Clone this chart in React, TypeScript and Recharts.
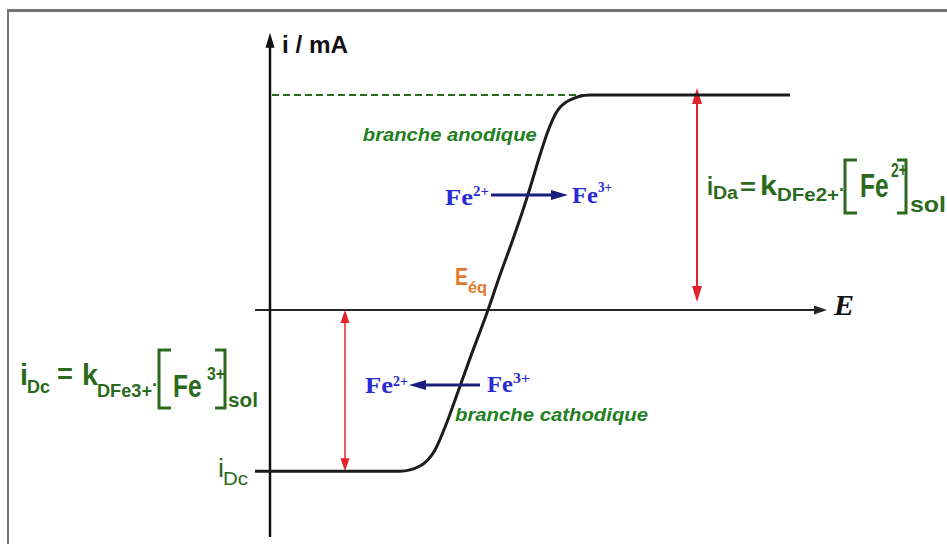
import React from 'react';
import { ComposedChart, Line, XAxis, YAxis, ReferenceLine, ReferenceDot } from 'recharts';

// i–E curve of the Fe3+/Fe2+ couple: potential E (V) and current i (mA)
const potentials = [0.1875, 0.55, 0.6, 0.6375, 0.6675, 0.695, 0.725, 0.77, 0.8, 0.83, 0.855, 0.875, 0.9, 0.92, 0.94, 0.97, 1.025, 1.525];
const currents = [-1.5, -1.5, -1.451, -1.302, -1.042, -0.76, -0.45, 0, 0.326, 0.633, 0.902, 1.135, 1.442, 1.665, 1.833, 1.944, 2.0, 2.0];

// characteristic values
const E_EQ = 0.77;
const I_DA = 2.0;
const I_DC = -1.5;

// axis placement and extents
const E_AXIS = 0.225;
const X_START = 0.1875;
const X_END = 1.6175;
const Y_BOTTOM = -2.112;
const Y_TOP = 2.58;
const X_DOMAIN = [-0.45, 1.9175];
const Y_DOMAIN = [-2.1767, 2.8837];

const curve = potentials.map((E, k) => ({ E, i: currents[k] }));

const SANS = "'Liberation Sans', Arial, sans-serif";
const SERIF = "'Liberation Serif', 'Times New Roman', serif";

const GREEN = '#2a6a1d';
const GREEN_TXT = '#23801f';
const BLUE = '#2a2ad4';
const NAVY = '#1b1f7c';
const RED = '#e3232b';
const ORANGE = '#e07a2e';
const INK = '#1c1c1c';

type Piece = {
  t: string;
  dx: number;
  dy: number;
  size: number;
  len?: number;
  sy?: number; // vertical stretch for tall, narrow glyphs
  fill: string;
  family?: string;
  weight?: string | number;
  italic?: boolean;
};

type Bracket = { x: number; arm: number; top: number; bottom: number };

const textShape = (pieces: Piece[], brackets: Bracket[] = [], color = GREEN) => (p: any) => (
  <g>
    {brackets.map((b, k) => (
      <path
        key={'b' + k}
        d={`M${p.cx + b.x + b.arm},${p.cy + b.top} L${p.cx + b.x},${p.cy + b.top} L${p.cx + b.x},${p.cy + b.bottom} L${p.cx + b.x + b.arm},${p.cy + b.bottom}`}
        fill="none"
        stroke={color}
        strokeWidth={3}
      />
    ))}
    {pieces.map((q, k) => {
      const common = {
        fontSize: q.size,
        fill: q.fill,
        fontFamily: q.family ?? SANS,
        fontWeight: q.weight ?? 'bold',
        fontStyle: q.italic ? 'italic' : 'normal',
      };
      if (q.sy) {
        return (
          <text key={k} x={0} y={0} transform={`translate(${p.cx + q.dx},${p.cy + q.dy}) scale(1,${q.sy})`} {...common}>
            {q.t}
          </text>
        );
      }
      return (
        <text
          key={k}
          x={p.cx + q.dx}
          y={p.cy + q.dy}
          {...common}
          textLength={q.len}
          lengthAdjust={q.len ? 'spacingAndGlyphs' : undefined}
        >
          {q.t}
        </text>
      );
    })}
  </g>
);

type ArrowOpts = {
  color: string;
  width: number;
  head: number;
  half: number;
  atStart?: boolean;
  atEnd?: boolean;
  startShift?: number;
  endShift?: number;
};

const head = (tx: number, ty: number, ux: number, uy: number, o: ArrowOpts) => {
  const nx = -uy;
  const ny = ux;
  const bx = tx - ux * o.head;
  const by = ty - uy * o.head;
  return `${tx},${ty} ${bx + nx * o.half},${by + ny * o.half} ${bx - nx * o.half},${by - ny * o.half}`;
};

const arrowShape = (o: ArrowOpts) => (p: any) => {
  const { x1, y1, x2, y2 } = p;
  const L = Math.hypot(x2 - x1, y2 - y1) || 1;
  const ux = (x2 - x1) / L;
  const uy = (y2 - y1) / L;
  const sx = x1 - ux * (o.startShift ?? 0);
  const sy = y1 - uy * (o.startShift ?? 0);
  const ex = x2 + ux * (o.endShift ?? 0);
  const ey = y2 + uy * (o.endShift ?? 0);
  const lx1 = o.atStart ? sx + ux * o.head * 0.6 : sx;
  const ly1 = o.atStart ? sy + uy * o.head * 0.6 : sy;
  const lx2 = o.atEnd ? ex - ux * o.head * 0.6 : ex;
  const ly2 = o.atEnd ? ey - uy * o.head * 0.6 : ey;
  return (
    <g>
      <line x1={lx1} y1={ly1} x2={lx2} y2={ly2} stroke={o.color} strokeWidth={o.width} />
      {o.atEnd && <polygon points={head(ex, ey, ux, uy, o)} fill={o.color} />}
      {o.atStart && <polygon points={head(sx, sy, -ux, -uy, o)} fill={o.color} />}
    </g>
  );
};

// horizontal reaction arrow with labels, anchored at the arrow's left end
const reactionShape = (pieces: Piece[], length: number, pointLeft: boolean) => (p: any) => {
  const x0 = p.cx;
  const y0 = p.cy;
  const o: ArrowOpts = { color: NAVY, width: 3, head: 17, half: 5 };
  const tip = pointLeft ? x0 : x0 + length;
  const tail = pointLeft ? x0 + length : x0;
  const u = pointLeft ? -1 : 1;
  return (
    <g>
      <line x1={tail} y1={y0} x2={tip - u * o.head * 0.6} y2={y0} stroke={NAVY} strokeWidth={3} />
      <polygon points={head(tip, y0, u, 0, o)} fill={NAVY} />
      {textShape(pieces)(p)}
    </g>
  );
};

const feStyle = { fill: BLUE, family: SERIF, weight: 'bold' as const };

export default function App() {
  return (
    <div style={{ position: 'fixed', left: 0, top: 0, width: 947, height: 544, background: '#ffffff', overflow: 'hidden' }}>
      <div
        style={{
          position: 'absolute',
          left: 7,
          top: 9,
          right: -10,
          bottom: -10,
          borderTop: '3px solid #747474',
          borderLeft: '2px solid #747474',
        }}
      />
      <div style={{ position: 'absolute', left: 0, top: 0 }}>
        <ComposedChart width={947} height={544} data={curve} margin={{ top: 0, right: 0, bottom: 0, left: 0 }}>
          <XAxis dataKey="E" type="number" domain={X_DOMAIN} allowDataOverflow hide />
          <YAxis type="number" domain={Y_DOMAIN} allowDataOverflow hide />

          {/* axes */}
          <ReferenceLine
            segment={[{ x: X_START, y: 0 }, { x: X_END, y: 0 }]}
            ifOverflow="visible"
            shape={arrowShape({ color: '#262626', width: 2, head: 13, half: 4.5, atEnd: true })}
          />
          <ReferenceLine
            segment={[{ x: E_AXIS, y: Y_BOTTOM }, { x: E_AXIS, y: Y_TOP }]}
            ifOverflow="visible"
            shape={arrowShape({ color: '#111111', width: 2.5, head: 15, half: 4.5, atEnd: true })}
          />

          {/* anodic limiting current extended to the i axis */}
          <ReferenceLine
            segment={[{ x: E_AXIS + 0.005, y: I_DA }, { x: 1.025, y: I_DA }]}
            ifOverflow="visible"
            stroke={GREEN}
            strokeWidth={2}
            strokeDasharray="7 4"
          />

          {/* limiting current spans */}
          <ReferenceLine
            segment={[{ x: 1.2925, y: I_DA }, { x: 1.2925, y: 0 }]}
            ifOverflow="visible"
            shape={arrowShape({ color: RED, width: 2, head: 16, half: 5, atStart: true, atEnd: true, startShift: 7, endShift: -8 })}
          />
          <ReferenceLine
            segment={[{ x: 0.4125, y: 0 }, { x: 0.4125, y: I_DC }]}
            ifOverflow="visible"
            shape={arrowShape({ color: RED, width: 1.5, head: 13, half: 4.5, atStart: true, atEnd: true })}
          />

          {/* reaction arrows */}
          <ReferenceDot
            x={0.7775}
            y={1.0698}
            r={0}
            ifOverflow="visible"
            shape={reactionShape(
              [
                { t: 'Fe', dx: -46, dy: 10, size: 24, len: 28, ...feStyle },
                { t: '2+', dx: -18, dy: 1, size: 14, len: 16, ...feStyle },
                { t: 'Fe', dx: 81, dy: 8, size: 23, len: 26, ...feStyle },
                { t: '3+', dx: 107, dy: -3, size: 14, len: 14, ...feStyle },
              ],
              77,
              false,
            )}
          />
          <ReferenceDot
            x={0.5725}
            y={-0.6977}
            r={0}
            ifOverflow="visible"
            shape={reactionShape(
              [
                { t: 'Fe', dx: -44, dy: 8, size: 24, len: 28, ...feStyle },
                { t: '2+', dx: -16, dy: 1, size: 14, len: 15, ...feStyle },
                { t: 'Fe', dx: 78, dy: 7, size: 23, len: 26, ...feStyle },
                { t: '3+', dx: 104, dy: -2, size: 14, len: 17, ...feStyle },
              ],
              71,
              true,
            )}
          />

          <Line
            dataKey="i"
            type="monotone"
            stroke={INK}
            strokeWidth={3}
            dot={false}
            activeDot={false}
            isAnimationActive={false}
          />

          {/* axis titles */}
          <ReferenceDot
            x={E_AXIS}
            y={Y_TOP}
            r={0}
            ifOverflow="visible"
            shape={textShape([{ t: 'i / mA', dx: 12, dy: 20, size: 23, len: 66, fill: '#111111' }])}
          />
          <ReferenceDot
            x={X_END}
            y={0}
            r={0}
            ifOverflow="visible"
            shape={textShape([{ t: 'E', dx: 7, dy: 5, size: 29, len: 20, fill: '#111111', family: SERIF, italic: true }])}
          />

          {/* branch names */}
          <ReferenceDot
            x={0.457}
            y={1.575}
            r={0}
            ifOverflow="visible"
            shape={textShape([{ t: 'branche anodique', dx: 0, dy: 0, size: 19, len: 174, fill: GREEN_TXT, italic: true }])}
          />
          <ReferenceDot
            x={0.6875}
            y={-1.0326}
            r={0}
            ifOverflow="visible"
            shape={textShape([{ t: 'branche cathodique', dx: 0, dy: 0, size: 19, len: 193, fill: GREEN_TXT, italic: true }])}
          />

          {/* equilibrium potential */}
          <ReferenceDot
            x={E_EQ}
            y={0}
            r={0}
            ifOverflow="visible"
            shape={textShape([
              { t: 'E', dx: -33, dy: -25, size: 23, len: 13, fill: ORANGE },
              { t: 'éq', dx: -20, dy: -17, size: 17, len: 19, fill: ORANGE },
            ])}
          />

          {/* cathodic limiting current level */}
          <ReferenceDot
            x={X_START}
            y={I_DC}
            r={0}
            ifOverflow="visible"
            shape={textShape([
              { t: 'i', dx: -37, dy: 6, size: 25, len: 6, fill: GREEN, weight: 'normal' },
              { t: 'Dc', dx: -32, dy: 14, size: 18, len: 25, fill: GREEN, weight: 'normal' },
            ])}
          />

          {/* limiting current expressions */}
          <ReferenceDot
            x={1.3175}
            y={1.0698}
            r={0}
            ifOverflow="visible"
            shape={textShape(
              [
                { t: 'i', dx: 0, dy: 0, size: 25, len: 6, fill: GREEN },
                { t: 'Da', dx: 6, dy: 4, size: 19, len: 25, fill: GREEN },
                { t: '=', dx: 33, dy: 0, size: 24, len: 16, fill: GREEN },
                { t: 'k', dx: 53, dy: 0, size: 27, len: 17, fill: GREEN },
                { t: 'DFe2+', dx: 70, dy: 6, size: 18, len: 62, fill: GREEN },
                { t: '·', dx: 132, dy: 1, size: 18, fill: GREEN },
                { t: 'Fe', dx: 153, dy: 2, size: 24.5, sy: 1.35, fill: GREEN },
                { t: '2+', dx: 184, dy: -18, size: 21, len: 16, fill: GREEN },
                { t: 'sol', dx: 203, dy: 17, size: 22, len: 36, fill: GREEN },
              ],
              [
                { x: 138, arm: 12, top: -35, bottom: 18 },
                { x: 199, arm: -9, top: -35, bottom: 18 },
              ],
            )}
          />
          <ReferenceDot
            x={-0.4}
            y={-0.6977}
            r={0}
            ifOverflow="visible"
            shape={textShape(
              [
                { t: 'i', dx: 0, dy: 0, size: 29, len: 8, fill: GREEN },
                { t: 'Dc', dx: 7, dy: 8, size: 19, len: 23, fill: GREEN },
                { t: '=', dx: 37, dy: -2, size: 27, len: 16, fill: GREEN },
                { t: 'k', dx: 62, dy: 0, size: 29, len: 16, fill: GREEN },
                { t: 'DFe3+', dx: 77, dy: 12, size: 18, len: 55, fill: GREEN },
                { t: '·', dx: 132, dy: 6, size: 18, fill: GREEN },
                { t: 'Fe', dx: 153, dy: 12, size: 24.5, sy: 1.3, fill: GREEN },
                { t: '3+', dx: 187, dy: -5, size: 19, len: 18, fill: GREEN },
                { t: 'sol', dx: 208, dy: 22, size: 20, len: 30, fill: GREEN },
              ],
              [
                { x: 139, arm: 12, top: -35, bottom: 23 },
                { x: 205, arm: -10, top: -35, bottom: 23 },
              ],
            )}
          />
        </ComposedChart>
      </div>
    </div>
  );
}
